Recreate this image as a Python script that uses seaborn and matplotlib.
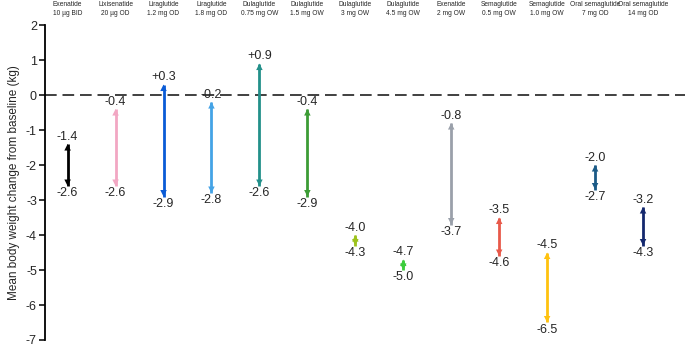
import matplotlib
matplotlib.use("Agg")
import matplotlib.pyplot as plt
import matplotlib.transforms as mtransforms
import seaborn as sns
import pandas as pd

drugs = ["Exenatide\n10 µg BID", "Lixisenatide\n20 µg OD", "Liraglutide\n1.2 mg OD",
         "Liraglutide\n1.8 mg OD", "Dulaglutide\n0.75 mg OW", "Dulaglutide\n1.5 mg OW",
         "Dulaglutide\n3 mg OW", "Dulaglutide\n4.5 mg OW", "Exenatide\n2 mg OW",
         "Semaglutide\n0.5 mg OW", "Semaglutide\n1.0 mg OW", "Oral semaglutide\n7 mg OD",
         "Oral semaglutide\n14 mg OD"]
upper = [-1.4, -0.4, 0.3, -0.2, 0.9, -0.4, -4.0, -4.7, -0.8, -3.5, -4.5, -2.0, -3.2]
lower = [-2.6, -2.6, -2.9, -2.8, -2.6, -2.9, -4.3, -5.0, -3.7, -4.6, -6.5, -2.7, -4.3]
colors = ["#000000", "#f2a7c3", "#0a5bd6", "#44a3e6", "#23908a", "#3c9c35",
          "#9cc21c", "#3ccc3c", "#9aa0aa", "#e8594a", "#ffc20e", "#1b5a86", "#14286e"]

sns.set_style("white")
plt.rcParams['font.family'] = ['Liberation Sans', 'DejaVu Sans']
plt.rcParams['axes.unicode_minus'] = False

df = pd.DataFrame({"pos": range(len(drugs)), "upper": upper, "lower": lower, "color": colors})
pal = dict(zip(colors, colors))

fig = plt.figure(figsize=(6.85, 3.48), dpi=100)
ax = fig.add_axes([0.066, 0.023, 0.934, 0.905])

# shafts + heads of the double arrows
ax.vlines(df["pos"], df["lower"], df["upper"], colors=df["color"], lw=2, zorder=2)
msize = 22
half = (msize ** 0.5) / 2 / 72  # half marker height in inches
sns.scatterplot(data=df, x="pos", y="upper", hue="color", palette=pal,
                marker="^", s=msize, linewidth=0, legend=False, ax=ax, zorder=3)
ax.collections[-1].set_offset_transform(
    ax.transData + mtransforms.ScaledTranslation(0, -half, fig.dpi_scale_trans))
sns.scatterplot(data=df, x="pos", y="lower", hue="color", palette=pal,
                marker="v", s=msize, linewidth=0, legend=False, ax=ax, zorder=3)
ax.collections[-1].set_offset_transform(
    ax.transData + mtransforms.ScaledTranslation(0, half, fig.dpi_scale_trans))

for i, (u, l) in enumerate(zip(upper, lower)):
    ut = f"+{u:.1f}" if u > 0 else f"{u:.1f}"
    ax.annotate(ut, (i, u), xytext=(0, 1), textcoords="offset points",
                ha="center", va="bottom", fontsize=9)
    ax.annotate(f"{l:.1f}", (i, l), xytext=(0, -1), textcoords="offset points",
                ha="center", va="top", fontsize=9)

ax.axhline(0, color="#404040", lw=1.4, linestyle=(0, (6, 3)), zorder=1)

ax.set_ylim(-7, 2)
ax.set_xlim(-0.467, 12.875)
ax.set_yticks(range(-7, 3))
ax.tick_params(axis="y", labelsize=9, length=4, width=1.3, direction="out", left=True, pad=2)
ax.set_ylabel("Mean body weight change from baseline (kg)", fontsize=8.5, labelpad=4)

ax.xaxis.tick_top()
ax.set_xticks(range(len(drugs)))
ax.set_xticklabels(drugs, fontsize=4.8, linespacing=1.35)
ax.tick_params(axis="x", length=0, pad=6)
ax.set_xlabel("")

for s in ["top", "right", "bottom"]:
    ax.spines[s].set_visible(False)
ax.spines["left"].set_linewidth(1.3)
ax.spines["left"].set_color("black")

fig.savefig("out.png", dpi=100)
